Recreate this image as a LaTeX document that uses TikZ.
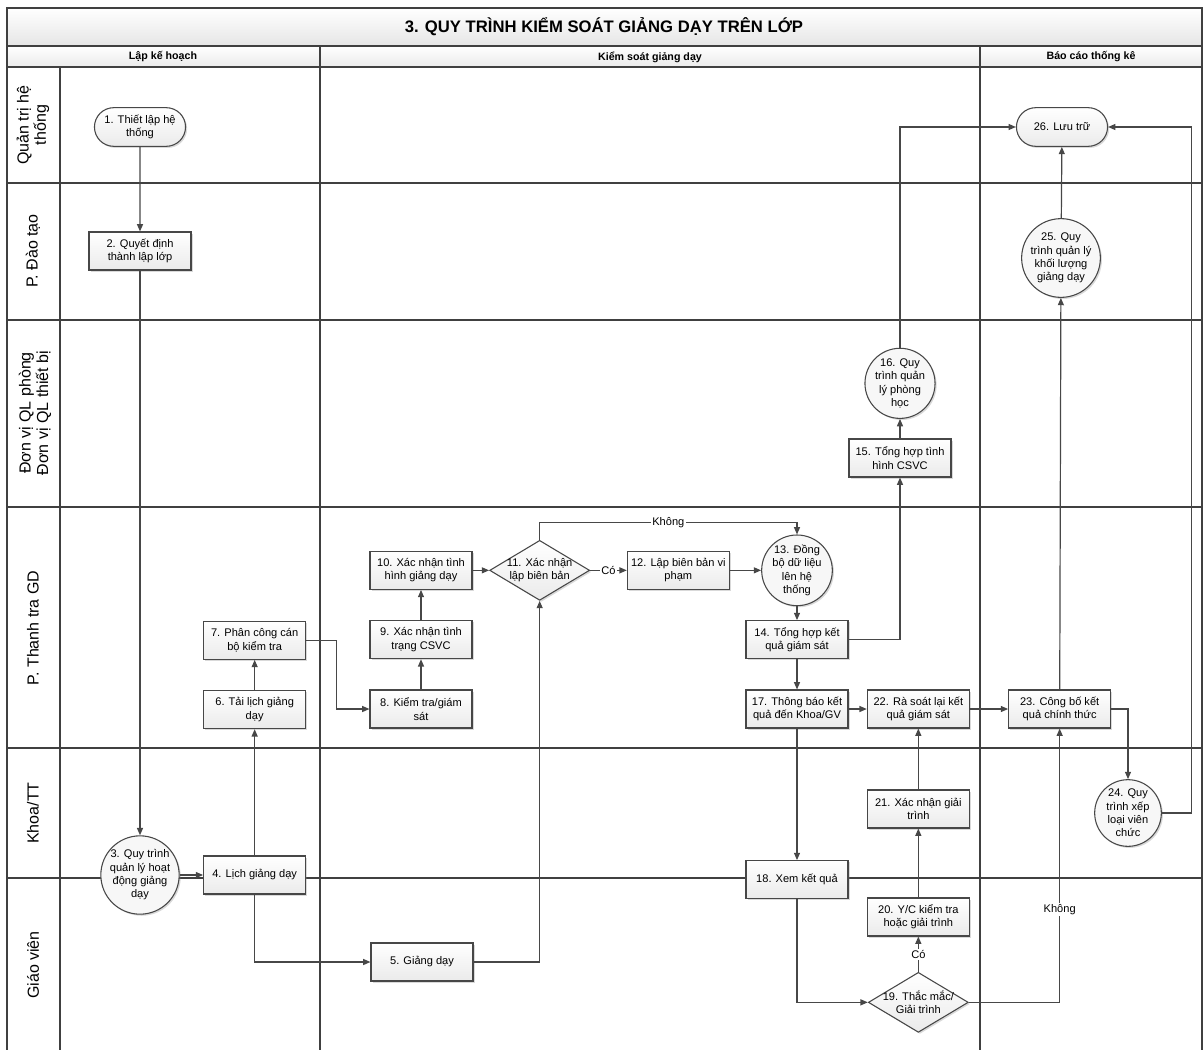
\documentclass[tikz,border=0pt]{standalone}
\usepackage{fontspec}
\setmainfont{Liberation Sans}
\usetikzlibrary{shapes.geometric,shapes.misc,shadows,positioning,arrows.meta}
\colorlet{linegray}{black!72}
\colorlet{boxbottom}{black!8}
\tikzstyle{plainbase}=[draw=linegray,line width=.8pt,
  drop shadow={shadow xshift=1.2pt,shadow yshift=-1.2pt,opacity=.3},
  align=center,font=\fontsize{8.3}{10}\selectfont]
\tikzstyle{boxbase}=[plainbase,top color=white,bottom color=boxbottom]
\tikzstyle{stepbox}=[boxbase,rectangle,minimum width=76.5pt,minimum height=28.5pt,inner sep=1pt]
\tikzstyle{procnode}=[plainbase,fill=black!3,circle,minimum size=50pt,inner sep=0pt]
\tikzstyle{termnode}=[boxbase,rounded rectangle,minimum width=75pt,minimum height=29pt]
\tikzstyle{decnode}=[boxbase,diamond,aspect=1.67,inner sep=-3pt,minimum width=75pt,
  minimum height=45pt]
\tikzstyle{flow}=[->,draw=linegray,line width=.9pt]
\tikzstyle{lane}=[draw=black!75,line width=1.3pt]
\tikzstyle{flowlabel}=[fill=white,inner sep=1pt,font=\fontsize{8.3}{10}\selectfont]
\tikzstyle{lanelabel}=[rotate=90,align=center,font=\fontsize{12}{13}\selectfont]
\tikzstyle{colhead}=[font=\bfseries\fontsize{8}{9}\selectfont]

\begin{document}
\begin{tikzpicture}[x=0.75pt,y=-0.75pt,>={Triangle[length=5.5pt,width=4.5pt]},
  on grid,node distance=52pt]
  \useasboundingbox (0,0) rectangle (1204,1050);
  \clip (0,0) rectangle (1204,1050);

  % frame, lanes and headers
  \shade[top color=white,bottom color=black!10] (7,8) rectangle (1202,46);
  \shade[top color=white,bottom color=black!8] (7,46) rectangle (1202,67);
  \foreach \y in {46,67,183,320,507,748,878}
    \draw[lane] (7,\y) -- (1202,\y);
  \foreach \x in {320,980}
    \draw[lane] (\x,46) -- (\x,1060);
  \draw[lane] (7,1060) |- (1202,8) -- (1202,1060);
  \draw[lane] (60,67) -- (60,1060);

  \node[font=\bfseries\fontsize{12.5}{14}\selectfont] (title) at (604,27)
  {3. QUY TRÌNH KIỂM SOÁT GIẢNG DẠY TRÊN LỚP};
  \node[colhead] (hplan) at (163,57) {Lập kế hoạch};
  \node[colhead] (hctrl) at (650,57) {Kiểm soát giảng dạy};
  \node[colhead] (hrep) at (1091,57) {Báo cáo thống kê};

  \node[lanelabel] (lsys) at (33,125) {Quản trị hệ\\thống};
  \node[lanelabel] (ledu) at (33,251) {P. Đào tạo};
  \node[lanelabel] (lroom) at (35,413) {Đơn vị QL phòng\\Đơn vị QL thiết bị};
  \node[lanelabel] (linsp) at (33,628) {P. Thanh tra GD};
  \node[lanelabel] (lfac) at (33,813) {Khoa/TT};
  \node[lanelabel] (lteach) at (33,965) {Giáo viên};

  % planning
  \node[termnode] (n1) at (140,127) {1. Thiết lập hệ\\thống};
  \node[stepbox, below=93pt of n1] (n2) {2. Quyết định\\thành lập lớp};
  \node[procnode] (n3) at (140,875) {3. Quy trình\\quản lý hoạt\\động giảng\\dạy};
  \node[stepbox, right=86pt of n3] (n4) {4. Lịch giảng dạy};
  \node[stepbox, above=124pt of n4] (n6) {6. Tải lịch giảng\\dạy};
  \node[stepbox, above=of n6] (n7) {7. Phân công cán\\bộ kiểm tra};

  % control
  \node[stepbox] (n5) at (422,962) {5. Giảng dạy};
  \node[stepbox] (n8) at (421,709) {8. Kiểm tra/giám\\sát};
  \node[stepbox, above=of n8] (n9) {9. Xác nhận tình\\trạng CSVC};
  \node[stepbox, above=of n9] (n10) {10. Xác nhận tình\\hình giảng dạy};
  \node[decnode, right=89pt of n10] (n11) {11. Xác nhận\\lập biên bản};
  \node[stepbox, right=104pt of n11] (n12) {12. Lập biên bản vi\\phạm};
  \node[procnode, right=89pt of n12] (n13) {13. Đồng\\bộ dữ liệu\\lên hệ\\thống};
  \node[stepbox, below=of n13] (n14) {14. Tổng hợp kết\\quả giám sát};
  \node[stepbox, below=of n14] (n17) {17. Thông báo kết\\quả đến Khoa/GV};
  \node[stepbox, below=128pt of n17] (n18) {18. Xem kết quả};
  \node[stepbox] (n15) at (900,458) {15. Tổng hợp tình\\hình CSVC};
  \node[procnode, above=56pt of n15] (n16) {16. Quy\\trình quản\\lý phòng\\học};
  \node[stepbox, right=91pt of n17] (n22) {22. Rà soát lại kết\\quả giám sát};
  \node[stepbox, below=75pt of n22] (n21) {21. Xác nhận giải\\trình};
  \node[stepbox, below=81pt of n21] (n20) {20. Y/C kiểm tra\\hoặc giải trình};
  \node[decnode, below=64pt of n20] (n19) {19. Thắc mắc/\\Giải trình};

  % report
  \node[stepbox, right=106pt of n22] (n23) {23. Công bố kết\\quả chính thức};
  \node[procnode] (n24) at (1128,813) {24. Quy\\trình xếp\\loại viên\\chức};
  \node[procnode] (n25) at (1061,258) {25. Quy\\trình quản lý\\khối lượng\\giảng dạy};
  \node[termnode] (n26) at (1062,127) {26. Lưu trữ};

  \draw[flow] (n1) -- (n2);
  \draw[flow] (n2) -- (n3);
  \draw[flow] (n3) -- (n4);
  \draw[flow] (n4) -- (n6);
  \draw[flow] (n6) -- (n7);
  \draw[flow] (n7.east) -- ++(22.5pt,0) |- (n8);
  \draw[flow] (n4) |- (n5);
  \draw[flow] (n8) -- (n9);
  \draw[flow] (n9) -- (n10);
  \draw[flow] (n10) -- (n11);
  \draw[flow] (n5) -| (n11);
  \draw[flow] (n11) -- node[flowlabel] {Có} (n12);
  \draw[flow] (n11.north) -- ++(0,13pt) -| node[flowlabel, pos=.25] {Không} (n13);
  \draw[flow] (n12) -- (n13);
  \draw[flow] (n13) -- (n14);
  \draw[flow] (n14) -- (n17);
  \draw[flow] (n14) -| (n15);
  \draw[flow] (n15) -- (n16);
  \draw[flow] (n16) |- (n26);
  \draw[flow] (n17) -- (n22);
  \draw[flow] (n17) -- (n18);
  \draw[flow] (n18) |- (n19);
  \draw[flow] (n19) -- node[flowlabel] {Có} (n20);
  \draw[flow] (n20) -- (n21);
  \draw[flow] (n21) -- (n22);
  \draw[flow] (n22) -- (n23);
  \draw[flow] (n19) -| node[flowlabel, pos=.67] {Không} (n23);
  \draw[flow] (n23) -| (n24);
  \draw[flow] (n24.east) -- ++(22.5pt,0) |- (n26);
  \draw[flow] (n23) -- (n25);
  \draw[flow] (n25) -- (n26);
\end{tikzpicture}
\end{document}
